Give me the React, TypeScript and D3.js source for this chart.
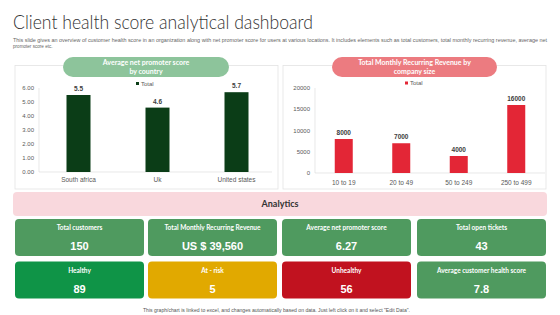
import React from "react";
import * as d3 from "d3";

const countries = ["South africa", "Uk", "United states"];
const npsValues = [5.5, 4.6, 5.7];
const npsTicks = [0, 1, 2, 3, 4, 5, 6];

const sizes = ["10 to 19", "20 to 49", "50 to 249", "250 to 499"];
const mrrValues = [8000, 7000, 4000, 16000];
const mrrTicks = [0, 5000, 10000, 15000, 20000];

const cardTitles = [
  "Total customers",
  "Total Monthly  Recurring Revenue",
  "Average net promoter score",
  "Total open tickets",
  "Healthy",
  "At - risk",
  "Unhealthy",
  "Average customer health score",
];
const cardValues = ["150", "US $ 39,560", "6.27", "43", "89", "5", "56", "7.8"];
const cardColors = ["#4f9a5f", "#4f9a5f", "#4f9a5f", "#4f9a5f", "#0f9447", "#e1a900", "#c1121f", "#4f9a5f"];

const TITLE_FONT = "Lato, 'Open Sans', sans-serif";
const AX_FONT = "'Liberation Sans', Arial, sans-serif";

export default function App() {
  // Chart 1
  const x1 = d3.scaleBand<string>().domain(countries).range([39, 276]);
  const y1 = d3.scaleLinear().domain([0, 6]).range([172, 88]);
  const bw1 = 24;
  // Chart 2
  const x2 = d3.scaleBand<string>().domain(sizes).range([315, 545]);
  const y2 = d3.scaleLinear().domain([0, 20000]).range([173, 88]);
  const bw2 = 18;

  const colX = [15, 148, 282, 417];
  const cardW = 129;
  const rowY = [219, 261.5];
  const cardH = 37;

  return (
    <svg width={560} height={315} style={{ position: "absolute", left: 0, top: 0, background: "#fff" }}>
      <rect x={0} y={0} width={560} height={315} fill="#fff" />
      <text x={13} y={29} fontFamily={TITLE_FONT} fontWeight={300} fontSize={19.5} fill="#333" textLength={300} lengthAdjust="spacingAndGlyphs">
        Client health score analytical dashboard
      </text>
      <text x={13} y={42} fontFamily={AX_FONT} fontSize={4.6} fill="#666" textLength={534} lengthAdjust="spacingAndGlyphs">
        This slide gives an overview of customer health score in an organization along with net promoter score for users at various locations. It includes elements such as total customers, total monthly recurring revenue, average net
      </text>
      <text x={13} y={48} fontFamily={AX_FONT} fontSize={4.6} fill="#666">
        promoter score etc.
      </text>

      {/* Left panel */}
      <rect x={15} y={65.5} width={263} height={123.5} fill="#fff" stroke="#e3e3e3" strokeWidth={0.8} />
      <rect x={63} y={57} width={166} height={20} rx={10} fill="#8dc49b" />
      <text x={146} y={65} textAnchor="middle" fontFamily={TITLE_FONT} fontWeight={700} fontSize={7} fill="#fff">
        Average net promoter score
      </text>
      <text x={146} y={73.5} textAnchor="middle" fontFamily={TITLE_FONT} fontWeight={700} fontSize={7} fill="#fff">
        by country
      </text>
      <line x1={39} x2={39} y1={88} y2={172} stroke="#d9d9d9" strokeWidth={0.6} />
      <line x1={39} x2={272} y1={172} y2={172} stroke="#d9d9d9" strokeWidth={0.6} />
      {npsTicks.map((t) => (
        <text key={t} x={34} y={y1(t) + 2} textAnchor="end" fontFamily={AX_FONT} fontSize={6} fill="#595959">
          {t.toFixed(2)}
        </text>
      ))}
      <rect x={136} y={82} width={3} height={3} fill="#0b3d17" />
      <text x={141} y={85.5} fontFamily={AX_FONT} fontSize={6} fill="#595959">Total</text>
      {countries.map((c, i) => {
        const cx = (x1(c) as number) + x1.bandwidth() / 2;
        return (
          <g key={c}>
            <rect x={cx - bw1 / 2} y={y1(npsValues[i])} width={bw1} height={172 - y1(npsValues[i])} fill="#0b3d17" />
            <text x={cx} y={y1(npsValues[i]) - 4} textAnchor="middle" fontFamily={AX_FONT} fontWeight={700} fontSize={6.5} fill="#404040">
              {npsValues[i]}
            </text>
            <text x={cx} y={182} textAnchor="middle" fontFamily={AX_FONT} fontSize={6.5} fill="#595959">
              {c}
            </text>
          </g>
        );
      })}

      {/* Right panel */}
      <rect x={283} y={65.5} width={263} height={123.5} fill="#fff" stroke="#e3e3e3" strokeWidth={0.8} />
      <rect x={332} y={57} width={165} height={20} rx={10} fill="#ec7b80" />
      <text x={414.5} y={65} textAnchor="middle" fontFamily={TITLE_FONT} fontWeight={700} fontSize={7} fill="#fff">
        Total Monthly  Recurring Revenue by
      </text>
      <text x={414.5} y={73.5} textAnchor="middle" fontFamily={TITLE_FONT} fontWeight={700} fontSize={7} fill="#fff">
        company size
      </text>
      <line x1={315} x2={315} y1={88} y2={173} stroke="#d9d9d9" strokeWidth={0.6} />
      <line x1={315} x2={545} y1={173} y2={173} stroke="#d9d9d9" strokeWidth={0.6} />
      {mrrTicks.map((t) => (
        <text key={t} x={310} y={y2(t) + 2} textAnchor="end" fontFamily={AX_FONT} fontSize={6} fill="#595959">
          {t}
        </text>
      ))}
      <rect x={405} y={81.5} width={3} height={3} fill="#e32636" />
      <text x={410} y={85} fontFamily={AX_FONT} fontSize={6} fill="#595959">Total</text>
      {sizes.map((s, i) => {
        const cx = (x2(s) as number) + x2.bandwidth() / 2;
        return (
          <g key={s}>
            <rect x={cx - bw2 / 2} y={y2(mrrValues[i])} width={bw2} height={173 - y2(mrrValues[i])} fill="#e32636" />
            <text x={cx} y={y2(mrrValues[i]) - 4} textAnchor="middle" fontFamily={AX_FONT} fontWeight={700} fontSize={6.5} fill="#404040">
              {mrrValues[i]}
            </text>
            <text x={cx} y={185} textAnchor="middle" fontFamily={AX_FONT} fontSize={6.5} fill="#595959">
              {s}
            </text>
          </g>
        );
      })}

      {/* Analytics bar */}
      <rect x={13} y={192} width={534} height={24} rx={4} fill="#f9d8dd" />
      <text x={280} y={207} textAnchor="middle" fontFamily={TITLE_FONT} fontWeight={700} fontSize={9} fill="#333">
        Analytics
      </text>

      {/* Cards */}
      {cardTitles.map((t, i) => {
        const col = i % 4;
        const row = Math.floor(i / 4);
        const x = colX[col];
        const y = rowY[row];
        return (
          <g key={t}>
            <rect x={x} y={y} width={cardW} height={cardH} rx={4} fill={cardColors[i]} />
            <text x={x + cardW / 2} y={y + 11} textAnchor="middle" fontFamily={TITLE_FONT} fontWeight={700} fontSize={6.5} fill="#fff">
              {t}
            </text>
            <text x={x + cardW / 2} y={y + 31} textAnchor="middle" fontFamily={AX_FONT} fontWeight={700} fontSize={11} fill="#fff">
              {cardValues[i]}
            </text>
          </g>
        );
      })}

      <text x={143} y={312} fontFamily={AX_FONT} fontSize={4.6} fill="#555" textLength={267} lengthAdjust="spacingAndGlyphs">
        This graph/chart is linked to excel, and changes automatically based on data. Just left click on it and select "Edit Data".
      </text>
    </svg>
  );
}
